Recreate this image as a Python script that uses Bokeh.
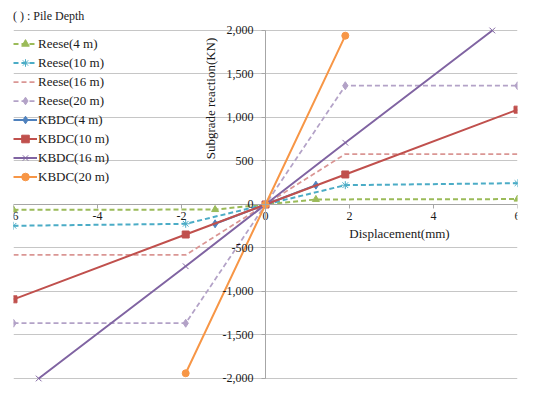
from math import pi
from bokeh.plotting import figure
from bokeh.models import Legend, LegendItem, Label, FixedTicker, NumeralTickFormatter
from bokeh.embed import file_html
from bokeh.resources import INLINE

# ---- data ----
reese4_x = [-6, -1.2, 0, 1.2, 6]
reese4_y = [-62, -58, 0, 58, 62]
reese10_x = [-6, -1.9, 0, 1.9, 6]
reese10_y = [-245, -222, 0, 222, 245]
reese16_x = [-6, -1.9, 0, 1.9, 6]
reese16_y = [-580, -580, 0, 580, 580]
reese20_x = [-6, -1.9, 0, 1.9, 6]
reese20_y = [-1365, -1365, 0, 1365, 1365]
kbdc4_x = [-1.2, 0, 1.2]
kbdc4_y = [-222, 0, 222]
kbdc10_x = [-6, -1.9, 0, 1.9, 6]
kbdc10_y = [-1090, -345, 0, 345, 1090]
kbdc16_x = [-5.4, -1.9, 0, 1.9, 5.4]
kbdc16_y = [-2000, -710, 0, 710, 2000]
kbdc20_x = [-1.9, 0, 1.9]
kbdc20_y = [-1940, 0, 1940]

x_ticks = [-6, -4, -2, 0, 2, 4, 6]
x_tick_labels = ["-6", "-4", "-2", "0", "2", "4", "6"]
y_ticks = [-2000, -1500, -1000, -500, 0, 500, 1000, 1500, 2000]

series_names = ["Reese(4 m)", "Reese(10 m)", "Reese(16 m)", "Reese(20 m)",
                "KBDC(4 m)", "KBDC(10 m)", "KBDC(16 m)", "KBDC(20 m)"]
legend_title = "( ) : Pile Depth"
x_title = "Displacement(mm)"
y_title = "Subgrade reaction(KN)"

FONT = "Liberation Serif"
TXT = "#1a1a1a"

p = figure(width=520, height=385, x_range=(-6, 6), y_range=(-2069, 2287),
           output_backend="svg", toolbar_location=None,
           min_border_left=13, min_border_right=3, min_border_top=5, min_border_bottom=1)
p.outline_line_color = None
p.background_fill_color = "white"
p.border_fill_color = "white"

p.xgrid.visible = False
p.ygrid.ticker = FixedTicker(ticks=y_ticks)
p.ygrid.grid_line_color = "#C6C6C6"
p.ygrid.grid_line_width = 1

for ax in (p.xaxis[0], p.yaxis[0]):
    ax.fixed_location = 0
    ax.axis_line_color = "#A6A6A6"
    ax.major_tick_line_color = "#A6A6A6"
    ax.minor_tick_line_color = None
    ax.major_tick_in = 0
    ax.major_tick_out = 4
    ax.major_label_text_font = FONT
    ax.major_label_text_font_size = "12px"
    ax.major_label_text_color = TXT

p.xaxis[0].ticker = FixedTicker(ticks=x_ticks)
p.xaxis[0].major_label_overrides = {t: l for t, l in zip(x_ticks, x_tick_labels)}
p.xaxis[0].major_label_standoff = 4
p.yaxis[0].ticker = FixedTicker(ticks=y_ticks)
p.yaxis[0].bounds = (y_ticks[0], y_ticks[-1])
p.yaxis[0].formatter = NumeralTickFormatter(format="0,0")
p.yaxis[0].major_label_standoff = 8

styles = [
    (reese4_x, reese4_y, "#9BBB59", "dashed", "triangle", 2.0),
    (reese10_x, reese10_y, "#4BACC6", "dashed", "asterisk", 2.0),
    (reese16_x, reese16_y, "#DA9694", "dashed", None, 1.75),
    (reese20_x, reese20_y, "#B3A2C7", "dashed", "diamond", 1.75),
    (kbdc4_x, kbdc4_y, "#4F81BD", "solid", "diamond", 2.0),
    (kbdc10_x, kbdc10_y, "#C0504D", "solid", "square", 2.0),
    (kbdc16_x, kbdc16_y, "#8064A2", "solid", "x", 2.0),
    (kbdc20_x, kbdc20_y, "#F79646", "solid", "circle", 2.0),
]

items = []
for name, (xs, ys, col, dash, mk, lw) in zip(series_names, styles):
    rs = []
    ld = "5 3" if dash == "dashed" else "solid"
    rs.append(p.line(xs, ys, line_color=col, line_width=lw, line_dash=ld))
    if mk is not None:
        size = 8 if mk in ("diamond", "x", "asterisk") else 7
        rs.append(p.scatter(xs, ys, marker=mk, size=size, fill_color=col,
                            line_color=col, line_width=1))
    items.append(LegendItem(label=name, renderers=rs))

legend = Legend(items=items, location=(0, 198), title=legend_title,
                title_text_font=FONT, title_text_font_size="12px",
                title_text_font_style="normal", title_text_color=TXT,
                title_standoff=10,
                label_text_font=FONT, label_text_font_size="13px",
                label_text_color=TXT, label_standoff=1,
                glyph_width=24, glyph_height=19, label_height=19, spacing=0,
                padding=0, margin=0, border_line_color=None,
                background_fill_alpha=0)
p.add_layout(legend, "center")

p.add_layout(Label(x=197, y=286, x_units="screen", y_units="screen", text=y_title,
                   angle=pi / 2, text_align="center", text_baseline="middle",
                   text_font=FONT, text_font_size="13px", text_color=TXT))
p.add_layout(Label(x=386, y=151, x_units="screen", y_units="screen", text=x_title,
                   text_align="center", text_baseline="middle",
                   text_font=FONT, text_font_size="13px", text_color=TXT))

open("out.html", "w").write(file_html(p, INLINE))
